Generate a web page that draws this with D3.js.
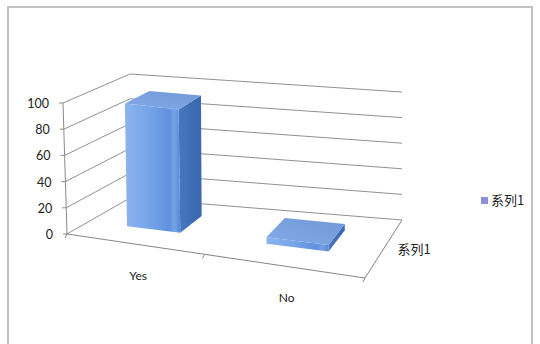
<!DOCTYPE html>
<html>
<head>
<meta charset="utf-8">
<script src="https://cdn.jsdelivr.net/npm/d3@7"></script>
<style>
  body { margin: 0; background: #fff; }
  svg { display: block; }
</style>
</head>
<body>
<svg id="chart" width="540" height="344"></svg>
<script>
// ---- data ----
const categories = ["Yes", "No"];
const seriesName = "系列1";
const values = [95, 5];
const valueTicks = [0, 20, 40, 60, 80, 100];

// ---- 3-D box geometry (screen space) ----
// floor corners: front-left, front-right, back-left, back-right
const floorX = { fl: 67, fr: 365, bl: 130, br: 402 };
const floorY = { fl: 234, fr: 278, bl: 198, br: 220 };
// on-screen height of the full value range at each floor corner
const span = { fl: 131, fr: 135, bl: 124, br: 128 };
// sideways lean of vertical edges at full height (perspective)
const lean = { fl: -4, fr: 0, bl: 0, br: 0 };
// vanishing parameter for foreshortening across the floor (right side is nearer)
const vanish = -6;

const svg = d3.select("#chart");

// category position across the floor, value up the walls, series depth into the floor
const uScale = d3.scaleBand().domain(categories).range([0, 1])
  .paddingInner(0.6).paddingOuter(0.3);
const vScale = d3.scaleLinear().domain([0, 100]).range([0, 1]);
const wScale = d3.scaleLinear().domain([0, 1]).range([0.35, 0.74]);

const foreshorten = p => p * vanish / (p + vanish - 1);

function bilerp(c, a, w) {
  const front = c.fl + (c.fr - c.fl) * a;
  const back = c.bl + (c.br - c.bl) * a;
  return front + (back - front) * w;
}
// p: 0..1 across, w: 0..1 into depth, val: data value
function project(p, w, val) {
  const a = foreshorten(p);
  const t = vScale(val);
  return [
    bilerp(floorX, a, w) + bilerp(lean, a, w) * t,
    bilerp(floorY, a, w) - bilerp(span, a, w) * t
  ];
}
const line = d3.line();

// ---- chart frame ----
svg.append("rect")
  .attr("x", 8).attr("y", 7).attr("width", 524).attr("height", 345)
  .attr("fill", "#fff").attr("stroke", "#c2c2c2").attr("stroke-width", 2);

// ---- walls: gridlines on the side wall and back wall ----
const grid = svg.append("g").attr("fill", "none").attr("stroke", "#919191").attr("stroke-width", 1);
valueTicks.forEach(t => {
  grid.append("path").attr("d", line([project(0, 0, t), project(0, 1, t), project(1, 1, t)]));
});

// value axis line and ticks
svg.append("path")
  .attr("d", line([project(0, 0, 0), project(0, 0, 100)]))
  .attr("stroke", "#8a8a8a").attr("fill", "none");
valueTicks.forEach(t => {
  const p = project(0, 0, t);
  svg.append("path").attr("d", line([[p[0] - 4, p[1]], p]))
    .attr("stroke", "#8a8a8a").attr("fill", "none");
  svg.append("text")
    .attr("x", p[0] - 14).attr("y", p[1] + 5)
    .attr("text-anchor", "end")
    .attr("font-family", "Lato, 'Open Sans', sans-serif")
    .attr("font-size", 12.5).attr("fill", "#222")
    .text(t);
});

// ---- columns ----
const defs = svg.append("defs");
const frontGrad = defs.append("linearGradient").attr("id", "gFront");
[[0, "#8cb4ee"], [0.45, "#76a4e8"], [0.8, "#5f92de"], [0.9, "#74a2e4"], [1, "#5587d4"]]
  .forEach(([o, c]) => frontGrad.append("stop").attr("offset", o).attr("stop-color", c));
const sideGrad = defs.append("linearGradient").attr("id", "gSide");
[[0, "#4677bf"], [1, "#3a67ad"]]
  .forEach(([o, c]) => sideGrad.append("stop").attr("offset", o).attr("stop-color", c));
const topGrad = defs.append("linearGradient").attr("id", "gTop").attr("x1", 0).attr("y1", 1).attr("x2", 1).attr("y2", 0);
[[0, "#84abe6"], [1, "#6f98d8"]]
  .forEach(([o, c]) => topGrad.append("stop").attr("offset", o).attr("stop-color", c));

const bars = svg.append("g");
categories.forEach((cat, i) => {
  const a0 = uScale(cat), a1 = a0 + uScale.bandwidth();
  const w0 = wScale(0), w1 = wScale(1);
  const val = values[i];
  const g = bars.append("g");
  g.append("path").attr("fill", "url(#gSide)")
    .attr("d", line([project(a1, w0, 0), project(a1, w1, 0), project(a1, w1, val), project(a1, w0, val)]) + "Z");
  g.append("path").attr("fill", "url(#gTop)")
    .attr("d", line([project(a0, w0, val), project(a1, w0, val), project(a1, w1, val), project(a0, w1, val)]) + "Z");
  g.append("path").attr("fill", "url(#gFront)")
    .attr("d", line([project(a0, w0, 0), project(a1, w0, 0), project(a1, w0, val), project(a0, w0, val)]) + "Z");
});

// ---- floor front edge and depth axis ----
svg.append("path")
  .attr("d", line([project(0, 0, 0), project(1, 0, 0), project(1, 1, 0)]))
  .attr("stroke", "#858585").attr("fill", "none");
// category boundary tick marks along the front edge
const midBoundary = uScale(categories[1]) - uScale.step() * uScale.paddingInner() / 2;
[0, midBoundary, 1].forEach(a => {
  const p = project(a, 0, 0);
  svg.append("path").attr("d", line([p, [p[0] - 2, p[1] + 4]]))
    .attr("stroke", "#858585").attr("fill", "none");
});

// category labels
categories.forEach(cat => {
  const p = project(uScale(cat) + uScale.bandwidth() / 2, 0, 0);
  svg.append("text")
    .attr("x", p[0] + 5).attr("y", p[1] + 36)
    .attr("text-anchor", "middle")
    .attr("font-family", "Lato, 'Open Sans', sans-serif")
    .attr("font-size", 12).attr("fill", "#222")
    .text(cat);
});

// series (depth) label
{
  const p = project(1, 0.5, 0);
  svg.append("text")
    .attr("x", p[0] + 14).attr("y", p[1] + 5)
    .attr("font-family", "'Noto Sans CJK SC', sans-serif")
    .attr("font-size", 13).attr("fill", "#222")
    .text(seriesName);
}

// ---- legend ----
const legend = svg.append("g").attr("transform", "translate(481,197)");
legend.append("rect").attr("width", 7).attr("height", 7).attr("fill", "#8a8fd8");
legend.append("text")
  .attr("x", 10).attr("y", 8)
  .attr("font-family", "'Noto Sans CJK SC', sans-serif")
  .attr("font-size", 13).attr("fill", "#222")
  .text(seriesName);
</script>
</body>
</html>
